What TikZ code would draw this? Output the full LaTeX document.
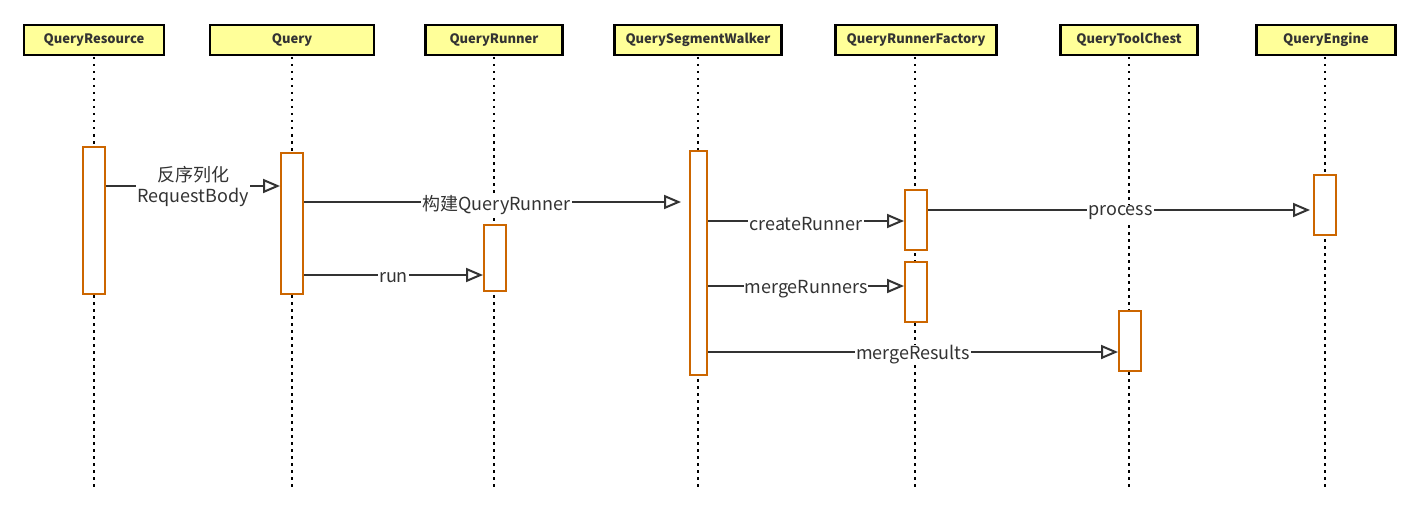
\documentclass[tikz,border=0pt]{standalone}
\usepackage{fontspec}
\setmainfont{Noto Sans CJK SC}
\usetikzlibrary{arrows.meta}
\definecolor{headfill}{HTML}{FFFF99}
\definecolor{actorange}{HTML}{CC6600}
\definecolor{msggray}{HTML}{333333}
\begin{document}
\begin{tikzpicture}[x=1pt,y=-1pt,
  head/.style={draw=black,line width=2.5pt,fill=headfill,minimum height=30pt,
    inner sep=0pt,font=\fontsize{13}{15}\selectfont\bfseries,text=msggray},
  life/.style={line width=2pt,dash pattern=on 2.5pt off 4.5pt},
  act/.style={draw=actorange,line width=2pt,fill=white,minimum width=22pt,inner sep=0pt},
  msg/.style={draw=msggray,line width=2pt,-{Triangle[open,length=17pt,width=14pt,line width=2pt]}},
  lbl/.style={fill=white,inner sep=1pt,yshift=-3pt,text=msggray,font=\fontsize{18}{21}\selectfont}]
\useasboundingbox (0,0) rectangle (1418,516);

% heads
\node[head,minimum width=140pt] (res) at (94,40) {QueryResource};
\node[head,minimum width=164pt] (query) at (292,40) {Query};
\node[head,minimum width=137pt] (runner) at (494,40) {QueryRunner};
\node[head,minimum width=167pt] (walker) at (698,40) {QuerySegmentWalker};
\node[head,minimum width=161pt] (factory) at (916,40) {QueryRunnerFactory};
\node[head,minimum width=137pt] (chest) at (1129,40) {QueryToolChest};
\node[head,minimum width=139pt] (engine) at (1326,40) {QueryEngine};

% lifelines
\coordinate (resEnd) at (94,490);
\coordinate (queryEnd) at (292,490);
\coordinate (runnerEnd) at (494,490);
\coordinate (walkerEnd) at (698,490);
\coordinate (factoryEnd) at (915,490);
\coordinate (chestEnd) at (1129,490);
\coordinate (engineEnd) at (1325,490);
\draw[life] (res.south |- 0,57) -- (resEnd);
\draw[life] (query.south |- 0,57) -- (queryEnd);
\draw[life] (runner.south |- 0,57) -- (runnerEnd);
\draw[life] (walker.south |- 0,57) -- (walkerEnd);
\draw[life] (factoryEnd |- 0,57) -- (factoryEnd);
\draw[life] (chest.south |- 0,57) -- (chestEnd);
\draw[life] (engineEnd |- 0,57) -- (engineEnd);

% activations
\node[act,minimum height=147pt] (aRes) at (94,220.5) {};
\node[act,minimum height=141pt] (aQuery) at (292,223.5) {};
\node[act,minimum height=66pt] (aRunner) at (495,258) {};
\node[act,minimum width=17pt,minimum height=224pt] (aWalker) at (698.5,263) {};
\node[act,minimum height=60pt] (aFac1) at (916,220) {};
\node[act,minimum height=60pt] (aFac2) at (916,292) {};
\node[act,minimum height=60pt] (aChest) at (1130,341) {};
\node[act,minimum height=60pt] (aEngine) at (1325,205) {};

% messages
\draw[msg] (aRes.east |- 0,186) -- node[lbl,yshift=2pt,align=center]{反序列化\\RequestBody} (aQuery.west |- 0,186);
\draw[msg,shorten >=8pt] (aQuery.east |- 0,202) -- node[lbl]{构建QueryRunner} (aWalker.west |- 0,202);
\draw[msg] (aQuery.east |- 0,275) -- node[lbl]{run} (aRunner.west |- 0,275);
\draw[msg] (aWalker.east |- 0,221) -- node[lbl]{createRunner} (aFac1.west |- 0,221);
\draw[msg,shorten >=3pt] (aFac1.east |- 0,210) -- node[lbl]{process} (aEngine.west |- 0,210);
\draw[msg] (aWalker.east |- 0,286) -- node[lbl]{mergeRunners} (aFac2.west |- 0,286);
\draw[msg] (aWalker.east |- 0,352) -- node[lbl]{mergeResults} (aChest.west |- 0,352);
\end{tikzpicture}
\end{document}
